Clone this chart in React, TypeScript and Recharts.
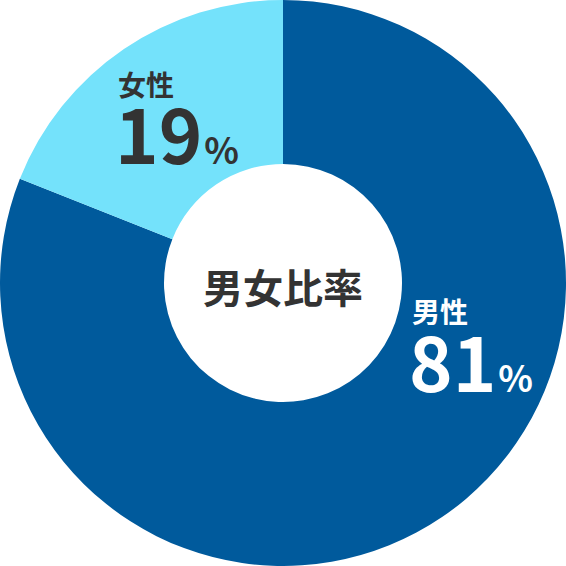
import { PieChart, Pie, Cell } from "recharts";

const categories = ["男性", "女性"];
const shares = [81, 19];
const sliceColors = ["#005a9c", "#74e2fb"];
const labelColors = ["#ffffff", "#333333"];
const centerTitle = "男女比率";

// label anchor offsets from the pie centre (px)
const labelOffsets = [
  { dx: 129, dy: 40, dyBig: 109 },
  { dx: -165, dy: -187, dyBig: -119 },
];

const data = categories.map((name, i) => ({ name, value: shares[i] }));

const FONT = '"Noto Sans CJK JP", "Noto Sans", sans-serif';

function renderLabel(props: any) {
  const { cx, cy, index, name, value } = props;
  const off = labelOffsets[index];
  return (
    <text
      key={`lbl-${index}`}
      fill={labelColors[index]}
      fontFamily={FONT}
      fontWeight={700}
      textAnchor="start"
    >
      <tspan x={cx + off.dx} y={cy + off.dy} fontSize={28}>
        {name}
      </tspan>
      <tspan x={cx + off.dx - 3} y={cy + off.dyBig} fontSize={74}>
        {value}
      </tspan>
      <tspan fontSize={36} dx={2}>%</tspan>
    </text>
  );
}

export default function App() {
  return (
    <div style={{ position: "absolute", left: 0, top: 0, width: 566, height: 566, background: "#fff" }}>
      <PieChart width={566} height={566} margin={{ top: 0, right: 0, bottom: 0, left: 0 }}>
        <Pie
          data={data}
          dataKey="value"
          nameKey="name"
          cx={283}
          cy={283}
          outerRadius={283}
          innerRadius={119}
          startAngle={90}
          endAngle={-270}
          stroke="none"
          labelLine={false}
          label={renderLabel}
          isAnimationActive={false}
        >
          {data.map((d, i) => (
            <Cell key={d.name} fill={sliceColors[i]} />
          ))}
        </Pie>
        <text
          x={283}
          y={303}
          textAnchor="middle"
          fill="#333333"
          fontFamily={FONT}
          fontWeight={700}
          fontSize={40}
        >
          {centerTitle}
        </text>
      </PieChart>
    </div>
  );
}
